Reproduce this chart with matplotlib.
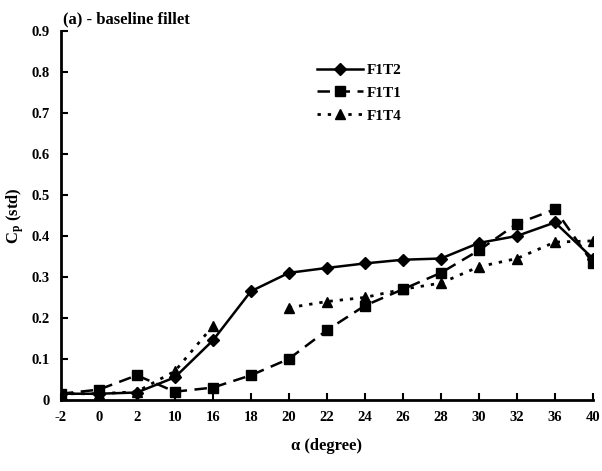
import numpy as np
import matplotlib
matplotlib.use("Agg")
import matplotlib.pyplot as plt

alpha_labels = ["-2", "0", "2", "10", "16", "18", "20", "22", "24", "26", "28", "30", "32", "36", "40"]
f1t2 = [0.015, 0.015, 0.018, 0.055, 0.145, 0.265, 0.31, 0.322, 0.333, 0.342, 0.345, 0.383, 0.40, 0.433, 0.345]
f1t1 = [0.015, 0.025, 0.06, 0.02, 0.03, 0.06, 0.10, 0.17, 0.23, 0.27, 0.31, 0.365, 0.43, 0.465, 0.333]
f1t4 = [0.015, 0.015, 0.02, 0.07, 0.18, np.nan, 0.225, 0.24, 0.25, 0.27, 0.285, 0.325, 0.345, 0.385, 0.388]

plt.rcParams['font.family'] = ['Liberation Serif', 'DejaVu Serif']
plt.rcParams['font.weight'] = 'bold'
plt.rcParams['axes.labelweight'] = 'bold'
plt.rcParams['mathtext.default'] = 'regular'

fig = plt.figure(figsize=(6.02, 4.71), dpi=100)
ax = fig.add_axes([0.101, 0.151, 0.884, 0.783])

x = np.arange(len(alpha_labels))
ax.plot(x, f1t2, color='black', linestyle='-', linewidth=1.8, marker='D', markersize=6, label='F1T2')
ax.plot(x, f1t1, color='black', linestyle=(0, (5, 3)), linewidth=1.8, marker='s', markersize=7, label='F1T1')
ax.plot(x, f1t4, color='black', linestyle=(0, (1.2, 2.5)), linewidth=2, marker='^', markersize=7, label='F1T4')

ax.set_xlim(0, len(alpha_labels) - 1)
ax.set_ylim(0, 0.9)
ax.set_xticks(x)
ax.set_xticklabels(alpha_labels)
ax.set_yticks(np.arange(0, 0.91, 0.1))
ax.set_yticklabels(["0"] + ["%.1f" % v for v in np.arange(0.1, 0.91, 0.1)])
ax.tick_params(direction='in', length=5, width=1.5, labelsize=10.5, pad=8)
for side in ['top', 'right']:
    ax.spines[side].set_visible(False)
for side in ['left', 'bottom']:
    ax.spines[side].set_linewidth(2)

ax.set_xlabel("\u03b1 (degree)", fontsize=12, labelpad=10)
ax.set_ylabel(r"C$_{p}$ (std)", fontsize=12)
fig.text(0.105, 0.958, "(a) - baseline fillet", fontsize=12, fontweight='bold', ha='left', va='center')

ax.legend(loc='upper left', bbox_to_anchor=(0.455, 0.95), frameon=False, fontsize=11,
          handlelength=3, handletextpad=0.3, labelspacing=0.6)

fig.savefig("out.png", dpi=100)
